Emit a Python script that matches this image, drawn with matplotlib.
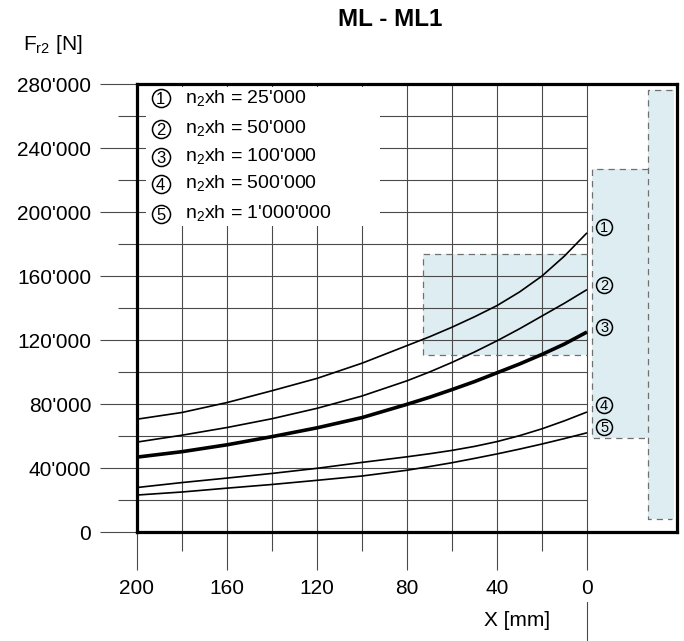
import matplotlib
matplotlib.use("Agg")
import matplotlib.pyplot as plt
from matplotlib.patches import Rectangle
from matplotlib.ticker import FuncFormatter

# --- data ---
x_mm = [200, 180, 160, 140, 120, 100, 80, 70, 60, 50, 40, 30, 20, 10, 0]
fr2_25k = [70500, 74700, 80900, 88300, 96000, 105500, 116500, 122000, 128000,
           134500, 141500, 150000, 160000, 172500, 187000]
fr2_50k = [56200, 60500, 65300, 70800, 77300, 85000, 94500, 100000, 106000,
           112500, 119500, 127000, 135000, 143000, 151500]
fr2_100k = [46800, 50200, 54500, 59600, 65100, 71500, 79800, 84200, 89000,
            94000, 99500, 105000, 111000, 117500, 125000]
fr2_500k = [27800, 30900, 33700, 36600, 39800, 43500, 47000, 48900, 51000,
            53500, 56500, 60200, 64500, 69500, 75000]
fr2_1m = [23100, 25000, 27400, 29700, 32300, 35000, 38600, 40900, 43300,
          46000, 48800, 51800, 55000, 58400, 62000]

curve_ids = ["1", "2", "3", "4", "5"]
nxh_values = ["25'000", "50'000", "100'000", "500'000", "1'000'000"]

# shaded zones: (x from, x to) and (F from, F to)
zone_x = [(73, 0), (-2.3, -27), (-27, -38.5)]
zone_y = [(110500, 174000), (58500, 227000), (8000, 276500)]

plt.rcParams["font.family"] = ["Liberation Sans", "DejaVu Sans"]
plt.rcParams["mathtext.fontset"] = "custom"
plt.rcParams["mathtext.rm"] = "Liberation Sans"

fig = plt.figure(figsize=(6.84, 6.41), dpi=100)
ax = fig.add_axes([137 / 684, 1 - 532 / 641, 540 / 684, 448 / 641])
ax.set_xlim(200, -40)
ax.set_ylim(0, 280000)

# grid (stops at x = 0)
grid_c = "#4a4a4a"
for gx in range(180, -1, -20):
    ax.plot([gx, gx], [0, 280000], color=grid_c, lw=0.8, zorder=1)
for gy in range(20000, 280000, 20000):
    ax.plot([200, 0], [gy, gy], color=grid_c, lw=0.8, zorder=1)

# shaded zones with dashed outlines
zc = "#deedf1"
dc = "#707070"
for (xa, xb), (ya, yb) in zip(zone_x, zone_y):
    ax.add_patch(Rectangle((xb, ya), xa - xb, yb - ya, facecolor=zc,
                           edgecolor="none", zorder=0.5, clip_on=False))
dash = dict(color=dc, lw=0.9, ls=(0, (5, 4)), zorder=2)
(x0, x1), (y0, y1) = zone_x[0], zone_y[0]
ax.plot([x1, x0, x0, x1], [y1, y1, y0, y0], **dash)
(x0, x1), (y0, y1) = zone_x[1], zone_y[1]
ax.plot([x1, x0, x0, x1], [y1, y1, y0, y0], **dash)
(x0, x1), (y0, y1) = zone_x[2], zone_y[2]
ax.plot([x1 + 0.8, x0, x0, x1 + 0.8], [y1, y1, y0, y0], **dash)

# legend box hides the grid
ax.add_patch(Rectangle((92, 191500), 104, 86500, facecolor="white",
                       edgecolor="none", zorder=1.5))

# curves
curves = [fr2_25k, fr2_50k, fr2_100k, fr2_500k, fr2_1m]
widths = [1.2, 1.2, 2.6, 1.2, 1.2]
for ys, lw in zip(curves, widths):
    ax.plot(x_mm, ys, color="black", lw=lw, zorder=3, solid_capstyle="butt",
            solid_joinstyle="round")


def circled(x, y, label, size, fsize):
    ax.plot([x], [y], marker="o", ms=size, mfc="none", mec="black", mew=1.1,
            zorder=4, clip_on=False)
    ax.text(x, y, label, fontsize=fsize, ha="center", va="center_baseline",
            zorder=4)


# curve markers at the right end
mark_y = [190800, 154400, 128300, 79400, 65800]
for c, my in zip(curve_ids, mark_y):
    circled(-7.6, my, c, 11.5, 10.5)

# legend text
leg_y = [271000, 252000, 234500, 217500, 199000]
for c, v, ly in zip(curve_ids, nxh_values, leg_y):
    circled(189.5, ly, c, 13, 12)
    ax.text(178.7, ly, r"n$_{\mathrm{2}}$xh = " + v, fontsize=14,
            ha="left", va="center", zorder=4)

# axes styling
for s in ax.spines.values():
    s.set_linewidth(2.3)
    s.set_color("black")
    s.set_zorder(5)

ax.set_xticks([200, 160, 120, 80, 40, 0])
ax.set_xticks([180, 140, 100, 60, 20], minor=True)
ax.set_yticks(range(0, 280001, 40000))
ax.set_yticks(range(20000, 280000, 40000), minor=True)
ax.yaxis.set_major_formatter(FuncFormatter(lambda v, p: f"{int(v):,}".replace(",", "'")))
ax.tick_params(which="major", length=27, width=0.8, color=grid_c,
               labelsize=15, pad=7)
ax.tick_params(axis="y", which="major", pad=6)
ax.tick_params(which="minor", length=13.5, width=0.8, color=grid_c)

# x = 0 reference line continues below the label
ax.plot([0, 0], [-44000, -70000], color=grid_c, lw=0.8, clip_on=False)

ax.text(31, -55000, "X [mm]", fontsize=15, ha="center", va="center")
fig.text(53 / 684, 1 - 45 / 641, r"F$_{\mathrm{r2}}$ [N]", fontsize=15,
         ha="center", va="center")
fig.text(390 / 684, 1 - 19 / 641, "ML - ML1", fontsize=17.5, fontweight="bold",
         ha="center", va="center")

fig.savefig("out.png", dpi=100)
